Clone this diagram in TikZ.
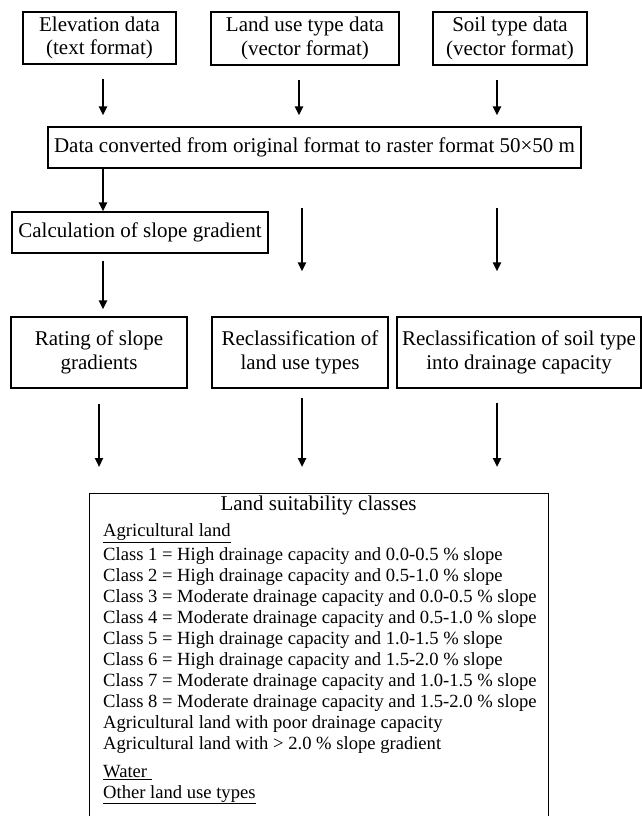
\documentclass[tikz,border=0pt]{standalone}
\usepackage{fontspec}
\setmainfont{Liberation Serif}
\usetikzlibrary{arrows.meta}
\newcommand\boxsize{\fontsize{21}{23.5}\selectfont}
\newcommand\listsize{\fontsize{18.6}{21}\selectfont}
\begin{document}
\begin{tikzpicture}[x=1pt,y=-1pt,
  box/.style={draw,line width=1.2pt,inner sep=0pt,align=center,font=\boxsize},
  item/.style={anchor=base west,inner sep=0pt,font=\listsize},
  flow/.style={line width=2.7pt,-{Triangle[width=8pt,length=9pt]}}]
 \useasboundingbox (0,0) rectangle (642,816);
 \node[box,minimum width=153,minimum height=52] (elev) at (99.5,38)
   {Elevation data\\(text format)};
 \node[box,minimum width=188,minimum height=53] (landdata) at (305,38.5)
   {Land use type data\\(vector format)};
 \node[box,minimum width=154,minimum height=53] (soildata) at (510,38.5)
   {Soil type data\\(vector format)};
 \node[box,minimum width=533,minimum height=41] (convert) at (314.5,147.5)
   {Data converted from original format to raster format 50×50 m};
 \node[box,minimum width=256,minimum height=41] (slope) at (140,232.5)
   {Calculation of slope gradient};
 \node[box,minimum width=176,minimum height=71] (rating) at (99,352.5)
   {Rating of slope\\gradients};
 \node[box,minimum width=176,minimum height=71] (landcls) at (300,352.5)
   {Reclassification of\\land use types};
 \node[box,minimum width=244,minimum height=71] (soilcls) at (519,352.5)
   {Reclassification of soil type\\into drainage capacity};
 \node[box,anchor=north west,minimum width=459,minimum height=340] (classes) at (89,493) {};
 \node[anchor=base,inner sep=0pt,font=\boxsize] (title) at (318.5,510.5)
   {Land suitability classes};
 \node[item] (agri) at (103,536.5) {\underline{Agricultural land}};
 \foreach \txt [count=\i] in {
   {Class 1 = High drainage capacity and 0.0-0.5 \% slope},
   {Class 2 = High drainage capacity and 0.5-1.0 \% slope},
   {Class 3 = Moderate drainage capacity and 0.0-0.5 \% slope},
   {Class 4 = Moderate drainage capacity and 0.5-1.0 \% slope},
   {Class 5 = High drainage capacity and 1.0-1.5 \% slope},
   {Class 6 = High drainage capacity and 1.5-2.0 \% slope},
   {Class 7 = Moderate drainage capacity and 1.0-1.5 \% slope},
   {Class 8 = Moderate drainage capacity and 1.5-2.0 \% slope},
   {Agricultural land with poor drainage capacity},
   {Agricultural land with > 2.0 \% slope gradient}
 } {
   \node[item] (cls\i) at (103,{539+21*\i}) {\txt};
 }
 \node[item] (water) at (103,777.5) {\underline{Water\ }};
 \node[item] (other) at (103,798) {\underline{Other land use types}};
 \foreach \src/\xp in {elev/103, landdata/299, soildata/497} {
   \draw[flow,shorten <=14pt,shorten >=11pt] (\src.south -| \xp,0) -- (convert.north -| \xp,0);
 }
 \draw[flow] (convert.south -| 103,0) -- (slope.north -| 103,0);
 \foreach \dst/\xp in {landcls/302, soilcls/497} {
   \draw[flow,shorten <=39pt,shorten >=45pt] (convert.south -| \xp,0) -- (\dst.north -| \xp,0);
 }
 \draw[flow,shorten <=7pt,shorten >=7pt] (slope.south -| 103,0) -- (rating.north -| 103,0);
 \foreach \src/\xp/\gap in {rating/99/15, landcls/302/9, soilcls/497/14} {
   \draw[flow,shorten <=\gap pt,shorten >=26pt] (\src.south -| \xp,0) -- (classes.north -| \xp,0);
 }
\end{tikzpicture}
\end{document}
